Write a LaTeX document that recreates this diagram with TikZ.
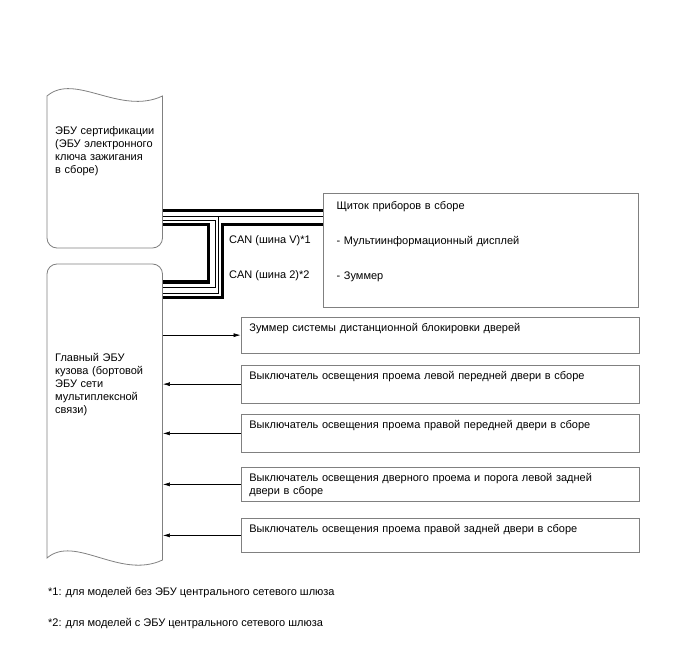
\documentclass[tikz,border=0pt]{standalone}
\usepackage{fontspec}
\setmainfont{Liberation Sans}
\usetikzlibrary{arrows.meta}
\definecolor{boxgray}{RGB}{128,128,128}

\begin{document}
\begin{tikzpicture}[x=1pt, y=-1pt,
                    every node/.style={font=\fontsize{11}{13}\selectfont},
                    ecu/.style={anchor=north west, inner sep=0pt, minimum width=115.5pt},
                    outline/.style={draw=boxgray, line width=0.8pt},
                    ecutext/.style={anchor=base west, inner sep=0pt, text width=105pt, align=left},
                    unit/.style={draw=boxgray, line width=0.8pt, anchor=north west, text width=381.5pt,
                                 align=left, inner xsep=8.5pt, inner ysep=4pt, text height=10pt},
                    bus/.style={line width=3.5pt},
                    wire/.style={line width=0.9pt},
                    sig/.style={line width=0.6pt, -{Latex[length=7pt,width=4pt]}}
                    ]
                    \useasboundingbox (0,0) rectangle (688,658);

                    % ECUs on the left
                    \node[ecu, minimum height=162pt] (cert) at (47,86) {};
                    \node[ecu, minimum height=296pt] (main) at (47,264) {};
                    \draw[outline] (162.5,96) -- (162.5,238) arc[start angle=0, end angle=-90, radius=10pt]
                        -- (57,248) arc[start angle=270, end angle=180, radius=10pt]
                        -- (47,96) .. controls (75,72) and (120,116) .. (162.5,96) -- cycle;
                    \draw[outline] (47,558) -- (47,274) arc[start angle=180, end angle=90, radius=10pt]
                        -- (152.5,264) arc[start angle=90, end angle=0, radius=10pt]
                        -- (162.5,560) .. controls (120,580) and (75,534) .. (47,558) -- cycle;
                    \node[ecutext] (certtext) at (55,135) {ЭБУ сертификации\\(ЭБУ электронного\\ключа зажигания\\в сборе)};
                    \node[ecutext] (maintext) at (55,361) {Главный ЭБУ\\кузова (бортовой\\ЭБУ сети\\мультиплексной\\связи)};

                    % units on the right
                    \node[unit, text width=288pt, inner xsep=13.5pt, text height=12pt, text depth=94pt] (meter) at (322.7,193)
                        {Щиток приборов в сборе\\[22pt]- Мультиинформационный дисплей\\[22pt]- Зуммер};
                    \foreach \n/\ty/\dd/\txt in {buzz/317/17.5/{Зуммер системы дистанционной блокировки дверей},
                                                 lfront/365/19.5/{Выключатель освещения проема левой передней двери в сборе},
                                                 rfront/414/20/{Выключатель освещения проема правой передней двери в сборе},
                                                 lrear/467/16/{Выключатель освещения дверного проема и порога левой задней\\двери в сборе},
                                                 rrear/518/16/{Выключатель освещения проема правой задней двери в сборе}}{
                        \node[unit, text depth=\dd pt] (\n) at (240.5,\ty) {\txt};
                    }

                    % CAN lines
                    \draw[bus] (cert.east |- 0,210.5) -- (meter.west |- 0,210.5);
                    \draw[wire] (cert.east |- 0,216.5) -- (meter.west |- 0,216.5);
                    \draw[wire] (cert.east |- 0,220) -- (215,220) -- (215,287.5) -- (main.east |- 0,287.5);
                    \draw[bus] (cert.east |- 0,224.5) -- (208.5,224.5) -- (208.5,282) -- (main.east |- 0,282);
                    \draw[wire] (main.east |- 0,293) -- (218,293) -- (218,216.5);
                    \draw[bus] (main.east |- 0,297.5) -- (222.5,297.5) -- (222.5,224.5) -- (meter.west |- 0,224.5);
                    \node[anchor=base west, inner sep=0pt] (canv) at (229,243) {CAN (шина V)*1};
                    \node[anchor=base west, inner sep=0pt] (can2) at (229,278) {CAN (шина 2)*2};

                    % signals
                    \draw[sig] (main.east |- buzz.west) -- (buzz.west);
                    \foreach \n in {lfront,rfront,lrear,rrear}{
                        \draw[sig] (\n.west) -- (main.east |- \n.west);
                    }

                    \node[anchor=base west, inner sep=0pt] (note1) at (48,595) {*1: для моделей без ЭБУ центрального сетевого шлюза};
                    \node[anchor=base west, inner sep=0pt] (note2) at (48,626) {*2: для моделей с ЭБУ центрального сетевого шлюза};
                \end{tikzpicture}
\end{document}
